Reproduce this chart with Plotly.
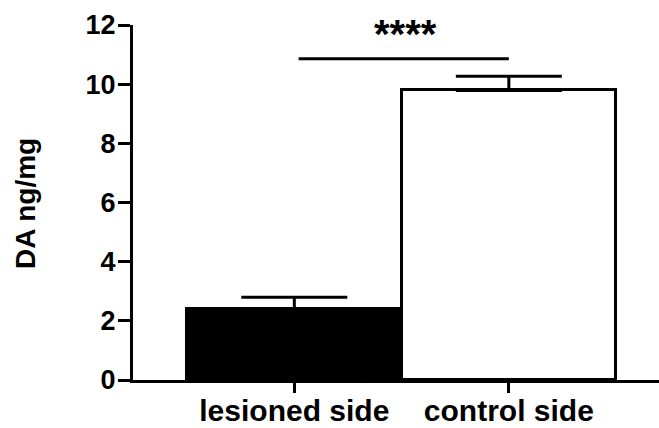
import plotly.graph_objects as go

categories = ["lesioned side", "control side"]
cat_pos = [0, 1]
means = [2.39, 9.79]
sem = [0.41, 0.48]
bar_colors = ["black", "white"]
y_ticks = [0, 2, 4, 6, 8, 10, 12]
sig_y = 10.86
sig_label = "****"
y_title = "DA ng/mg"

FONT = "Liberation Sans, Arial, sans-serif"

fig = go.Figure()
fig.add_trace(go.Bar(
    x=cat_pos, y=means, width=1.0,
    marker=dict(color=bar_colors, line=dict(color="black", width=3)),
    error_y=dict(type="data", array=sem, arrayminus=[0, 0], symmetric=False,
                 color="black", thickness=3, width=53),
    showlegend=False,
))

fig.add_shape(type="line", xref="x", yref="y", x0=cat_pos[0] + 0.02, x1=cat_pos[1],
              y0=sig_y, y1=sig_y, line=dict(color="black", width=3))
fig.add_annotation(x=(cat_pos[0] + cat_pos[1]) / 2 + 0.02, y=11.7, xref="x", yref="y",
                   text=sig_label, showarrow=False,
                   font=dict(family=FONT, size=40, color="black", weight="bold"))
fig.add_annotation(xref="x domain", yref="y domain", x=(25 - 133) / 526, y=(380 - 204) / 355,
                   xanchor="center", yanchor="middle",
                   text=y_title, showarrow=False, textangle=-90,
                   font=dict(family=FONT, size=28, color="black", weight="bold"))

fig.update_layout(
    width=659, height=428,
    margin=dict(l=133, r=0, t=25, b=48),
    paper_bgcolor="white", plot_bgcolor="white",
    bargap=0,
    xaxis=dict(range=[-0.752, 1.70], tickvals=cat_pos, ticktext=categories,
               showline=True, linecolor="black", linewidth=3,
               ticks="outside", ticklen=10, tickwidth=3, tickcolor="black",
               ticklabelstandoff=-8,
               showgrid=False, zeroline=False, automargin=False,
               tickfont=dict(family=FONT, size=30, color="black", weight="bold")),
    yaxis=dict(range=[0, 12], tickvals=y_ticks,
               showline=True, linecolor="black", linewidth=3,
               ticks="outside", ticklen=12, tickwidth=3, tickcolor="black",
               ticklabelstandoff=-3,
               showgrid=False, zeroline=False, automargin=False,
               tickfont=dict(family=FONT, size=27, color="black", weight="bold")),
)

fig.write_html("out.html")
